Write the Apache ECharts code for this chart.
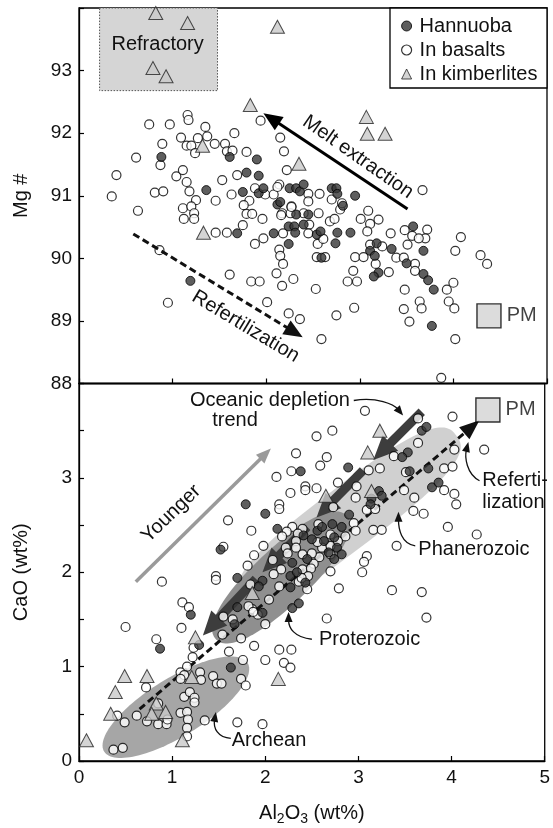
<!DOCTYPE html>
<html>
<head>
<meta charset="utf-8">
<script src="https://cdn.jsdelivr.net/npm/echarts@6/dist/echarts.min.js"></script>
<style>
  html, body { margin: 0; padding: 0; background: #fff; }
  #chart { width: 553px; height: 828px; }
</style>
</head>
<body>
<div id="chart"></div>
<script>
// Axis ranges
const al2o3Range = [0, 5];
const mgRange = [88, 94];
const caoRange = [0, 4];

// Mg# vs Al2O3 — [Al2O3 wt%, Mg#]
const hannuobaMg = [
  [0.88,91.62],[1.61,91.62],[1.90,91.58],[1.79,91.37],[1.92,91.32],[1.36,91.09],
  [1.75,91.06],[1.92,91.04],[1.97,91.12],[2.25,91.12],[2.32,91.12],[2.36,91.07],[2.40,91.18],
  [2.70,91.12],[2.75,91.12],[2.76,91.03],[2.95,91.00],[2.12,90.86],[2.15,90.90],[2.82,90.84],
  [2.32,90.70],[2.45,90.70],[2.24,90.51],[2.30,90.51],[2.40,90.54],[2.31,90.41],[2.08,90.40],
  [1.69,90.40],[2.24,90.23],[2.54,90.38],[2.58,90.43],[2.76,90.41],[2.90,90.41],[2.74,90.24],
  [2.59,90.01],[3.11,90.12],[3.18,90.24],[3.16,90.04],[3.20,89.77],[3.15,89.71],
  [3.34,90.15],[3.50,89.92],[3.57,90.51],[3.68,90.12],[3.68,89.75],[3.73,89.65],[3.79,89.50],
  [3.77,88.92],[1.19,89.64]
];
const basaltMg = [
  [0.75,92.14],[0.97,92.14],[1.16,92.29],[1.17,92.21],[1.35,92.10],[1.94,92.20],
  [0.89,91.83],[1.09,91.93],[1.15,91.80],[1.20,91.80],[1.27,91.92],[1.37,91.95],[1.24,91.68],
  [1.45,91.83],[1.56,91.83],[1.58,91.71],[1.64,91.72],[1.66,92.00],[1.79,91.70],[2.15,91.93],[2.19,91.71],
  [0.61,91.61],[0.87,91.49],[0.40,91.33],[1.04,91.31],[1.11,91.41],[1.15,91.22],[1.53,91.25],
  [1.69,91.33],[2.22,91.41],[2.14,91.18],[3.67,91.09],[0.81,91.05],[0.90,91.07],[0.35,90.99],
  [0.63,90.76],[1.18,91.07],[1.25,90.93],[1.11,90.80],[1.20,90.83],[1.12,90.63],[1.23,90.72],[1.23,90.63],
  [1.46,90.92],[1.46,90.41],[1.58,90.41],[1.63,91.02],[1.88,91.12],[1.82,90.92],[1.76,90.85],[1.79,90.71],
  [1.85,90.71],[1.96,90.63],[1.75,90.53],[1.99,91.02],[2.08,91.02],[2.12,91.14],
  [1.88,90.23],[1.97,90.32],[2.17,90.72],[2.18,90.40],[2.27,90.83],[2.26,90.72],[2.45,91.03],[2.45,90.91],
  [2.40,90.72],[2.46,90.54],[2.45,90.40],[2.57,91.03],[2.56,90.72],[2.68,90.59],[2.73,90.63],[2.70,90.94],
  [2.79,90.78],[2.81,90.88],[2.55,90.23],[2.61,90.31],
  [2.14,90.14],[2.15,90.04],[2.18,89.91],[2.11,89.76],[2.17,89.56],[2.29,89.67],[1.61,89.74],[1.84,89.63],
  [1.93,89.63],[2.01,89.30],[2.53,89.51],[2.24,89.12],[2.36,89.03],[2.59,88.71],[2.75,89.09],[2.94,89.21],
  [0.86,90.13],[0.95,89.29],[2.87,89.63],[2.97,89.63],[2.93,89.80],[2.95,90.02],[3.04,90.02],[2.54,90.02],[2.63,90.02],
  [3.01,90.63],[3.09,90.76],[3.11,90.55],[3.08,90.43],[3.20,90.62],[3.11,90.22],[3.24,90.19],[3.17,89.91],
  [3.31,89.78],[3.39,90.01],[3.33,90.40],[3.48,90.45],[3.56,90.36],[3.72,90.46],[3.70,90.32],[3.63,90.32],
  [3.51,90.22],[3.47,90.01],[3.59,89.91],[3.59,89.80],[3.48,89.50],[3.64,89.31],[3.66,89.20],[3.47,89.19],[3.53,88.99],
  [4.00,89.61],[3.93,89.50],[3.95,89.31],[4.01,89.20],[4.02,88.71],[4.02,90.12],[4.08,90.34],[4.29,90.05],
  [4.36,89.91],[3.87,88.09],[2.27,90.82],[2.16,90.69]
];
const kimberliteMg = [
  [0.82,93.92],[1.16,93.76],[2.12,93.70],[0.79,93.04],[0.93,92.91],[1.83,92.45],
  [3.07,92.26],[3.08,91.99],[3.27,91.99],[1.32,91.80],[2.35,91.51],[1.33,90.41]
];
const pmMg = [[4.38, 89.08]];

// CaO vs Al2O3 — [Al2O3 wt%, CaO wt%]
const hannuobaCa = [
  [3.68,3.50],[3.73,3.54],[3.53,3.27],[3.47,3.22],[2.38,3.07],[2.89,3.11],[3.55,3.07],[3.75,3.10],
  [3.79,2.90],[3.86,2.95],[1.79,2.72],[2.00,2.62],[2.90,2.61],[3.22,2.86],[3.25,2.81],[3.14,2.78],
  [3.13,2.72],[1.52,2.24],[2.13,2.46],[2.72,2.51],[2.82,2.48],[2.74,2.37],[2.56,2.44],[2.61,2.48],
  [2.41,2.39],[2.50,2.35],[2.63,2.33],[2.77,2.26],[2.29,2.10],[2.45,2.14],[2.82,2.19],[2.74,2.14],
  [2.68,2.21],[2.27,1.96],[2.34,2.00],[2.43,1.89],[2.27,1.84],[1.97,1.91],[1.93,1.85],[1.97,1.57],
  [2.29,1.62],[2.36,1.67],[1.70,1.94],[1.20,1.55],[0.87,1.19],[1.29,1.23],[1.63,0.99],[1.70,1.63],[1.67,1.45]
];
const basaltCa = [
  [3.07,3.71],[3.64,3.63],[4.01,3.65],[2.55,3.44],[2.72,3.50],[3.64,3.37],[4.03,3.30],[4.35,3.30],
  [2.33,3.26],[2.66,3.22],[3.38,3.23],[2.59,3.13],[3.11,3.08],[3.23,3.10],[2.12,3.01],[2.28,3.07],
  [2.78,2.95],[2.43,2.91],[2.43,2.87],[2.27,2.84],[2.55,2.89],[2.98,2.91],[2.97,2.79],[3.51,3.06],
  [3.49,2.87],[3.60,2.79],[3.92,3.10],[4.01,3.12],[3.92,2.87],[4.03,2.83],[4.05,2.72],[3.59,2.65],
  [3.70,2.62],[3.96,2.48],[4.27,2.40],[3.41,2.28],[3.16,2.45],[3.25,2.45],[3.09,2.66],[3.18,2.67],
  [2.15,2.72],[2.15,2.67],[1.60,2.55],[1.85,2.44],[1.98,2.28],[1.88,2.18],[2.73,2.69],[1.55,2.27],
  [2.29,2.48],[2.40,2.46],[2.23,2.43],[2.35,2.41],[2.18,2.38],[2.33,2.33],[1.81,2.07],[2.70,2.40],
  [2.61,2.26],[2.70,2.28],[2.58,2.16],[2.70,2.19],[2.52,2.09],[2.33,2.26],[2.22,2.26],[2.08,2.13],
  [2.17,2.03],[2.40,2.19],[2.57,2.51],[2.95,2.52],[2.86,2.38],[2.97,2.44],[3.09,2.17],
  [2.56,2.32],[2.78,2.33],[2.50,2.20],[2.24,2.20],[3.06,2.11],[3.04,2.00],[2.70,2.01],[2.09,1.98],
  [2.40,2.03],[2.49,2.04],[2.46,1.96],[2.36,1.90],[2.45,1.82],[2.15,1.85],[2.04,1.71],[1.86,1.61],
  [2.00,1.45],[1.92,1.55],[2.79,1.83],[3.36,1.81],[3.68,1.79],[3.73,1.52],[2.66,1.51],
  [1.88,1.22],[2.15,1.18],[2.28,1.18],[2.00,1.07],[2.20,1.04],[2.27,0.99],
  [0.89,1.90],[1.47,1.96],[1.47,1.92],[1.84,1.87],[0.50,1.42],[1.11,1.68],[1.18,1.63],[1.10,1.41],
  [0.83,1.29],[1.55,1.53],[1.65,1.50],[1.82,1.64],[1.87,1.58],[2.39,1.94],[1.54,1.34],[1.61,1.16],
  [1.74,1.30],[1.23,1.20],[1.22,1.10],[1.76,1.07],[1.16,1.00],[1.09,0.94],[1.13,0.91],[1.30,0.94],
  [1.31,0.86],[1.09,0.87],[1.44,0.90],[1.48,0.82],[1.53,0.82],[1.74,0.87],[1.79,0.80],[0.72,0.78],
  [1.13,0.68],[1.19,0.73],[1.24,0.67],[1.24,0.62],[1.09,0.51],[1.16,0.52],[1.17,0.44],[1.16,0.35],
  [1.16,0.26],[1.35,0.43],[0.62,0.48],[0.41,0.48],[0.49,0.41],[0.73,0.42],[0.85,0.39],[0.94,0.39],
  [0.95,0.44],[0.85,0.61],[0.37,0.12],[0.47,0.14],[1.70,0.41],[1.97,0.39]
];
const kimberliteCa = [
  [3.23,3.50],[3.10,3.27],[2.65,2.81],[3.14,2.86],[1.25,1.31],[0.08,0.22],[0.34,0.50],[0.39,0.73],
  [0.49,0.90],[0.73,0.90],[0.83,0.61],[0.78,0.50],[0.93,0.52],[1.21,0.89],[1.11,0.22],[1.86,1.78],[2.14,0.87]
];
const pmCa = [[4.39, 3.72]];

const FONT = 'Liberation Sans, Arial, Helvetica, sans-serif';
const INK = '#111';

const styles = {
  hannuoba: { symbol: 'circle', symbolSize: 9, itemStyle: { color: '#363636', borderColor: '#000', borderWidth: 1 } },
  basalt: { symbol: 'circle', symbolSize: 9, itemStyle: { color: '#fff', borderColor: '#000', borderWidth: 1.2 } },
  kimberlite: { symbol: 'triangle', symbolSize: [14, 13], itemStyle: { color: '#c9c9c9', borderColor: '#222', borderWidth: 1 } }
};

function scatter(name, data, gi, st, z) {
  return Object.assign({ name, type: 'scatter', xAxisIndex: gi, yAxisIndex: gi, data, silent: true, z }, st);
}
function pmSeries(data, gi) {
  return {
    name: 'PM', type: 'scatter', xAxisIndex: gi, yAxisIndex: gi, data, silent: true, z: 4,
    symbol: 'rect', symbolSize: 24,
    itemStyle: { color: '#d3d3d3', borderColor: '#000', borderWidth: 1.4 },
    label: { show: true, formatter: 'PM', position: 'right', distance: 5, fontSize: 20, fontFamily: FONT, color: INK }
  };
}

const axisCommon = {
  axisLine: { show: true, lineStyle: { color: '#000', width: 1.3 } },
  axisTick: { show: true, inside: true, length: 5, lineStyle: { color: '#000', width: 1.2 } },
  splitLine: { show: false },
  axisLabel: { fontSize: 19, fontFamily: FONT, color: INK, margin: 7 },
  nameTextStyle: { fontSize: 20, fontFamily: FONT, color: INK }
};

const option = {
  animation: false,
  backgroundColor: '#fff',
  textStyle: { fontFamily: FONT },
  grid: [
    { left: 79, top: 8, width: 468, height: 375.5, show: true, borderColor: '#000', borderWidth: 1.3, backgroundColor: 'transparent' },
    { left: 79, top: 383.5, width: 468, height: 377.5, show: true, borderColor: '#000', borderWidth: 1.3, backgroundColor: 'transparent' }
  ],
  xAxis: [
    Object.assign({}, axisCommon, { gridIndex: 0, type: 'value', min: al2o3Range[0], max: al2o3Range[1], interval: 1,
      axisLabel: { show: false } }),
    Object.assign({}, axisCommon, { gridIndex: 1, type: 'value', min: al2o3Range[0], max: al2o3Range[1], interval: 1,
      name: '{a|Al}{s|2}{a|O}{s|3}{a| (wt%)}', nameLocation: 'middle', nameGap: 39,
      nameTextStyle: { fontSize: 20, fontFamily: FONT, color: INK, rich: {
        a: { fontSize: 20, fontFamily: FONT, color: INK, lineHeight: 26 },
        s: { fontSize: 14, fontFamily: FONT, color: INK, lineHeight: 14, verticalAlign: 'bottom' }
      } } })
  ],
  yAxis: [
    Object.assign({}, axisCommon, { gridIndex: 0, type: 'value', min: mgRange[0], max: mgRange[1], interval: 1,
      axisLabel: Object.assign({}, axisCommon.axisLabel, { formatter: v => (v === mgRange[1] ? '' : String(v)) }),
      name: 'Mg #', nameLocation: 'middle', nameGap: 48 }),
    Object.assign({}, axisCommon, { gridIndex: 1, type: 'value', min: caoRange[0], max: caoRange[1], interval: 0.5,
      axisLabel: Object.assign({}, axisCommon.axisLabel, { formatter: v => (Number.isInteger(v) && v < caoRange[1] ? String(v) : '') }),
      name: 'CaO (wt%)', nameLocation: 'middle', nameGap: 48 })
  ],
  legend: {
    orient: 'vertical', left: 401, top: 14, padding: 0, itemGap: 0, itemWidth: 10, itemHeight: 10,
    selectedMode: false, z: 20,
    textStyle: { fontSize: 20, fontFamily: FONT, color: INK, lineHeight: 24, padding: [0, 0, 0, 3] },
    data: [
      { name: 'Hannuoba', icon: 'circle', itemStyle: styles.hannuoba.itemStyle },
      { name: 'In basalts', icon: 'circle', itemStyle: styles.basalt.itemStyle },
      { name: 'In kimberlites', icon: 'triangle', itemStyle: styles.kimberlite.itemStyle }
    ]
  },
  series: [
    scatter('In basalts', basaltMg, 0, styles.basalt, 3),
    scatter('Hannuoba', hannuobaMg, 0, styles.hannuoba, 3),
    scatter('In kimberlites', kimberliteMg, 0, styles.kimberlite, 3),
    pmSeries(pmMg, 0),
    scatter('In basalts', basaltCa, 1, styles.basalt, 3),
    scatter('Hannuoba', hannuobaCa, 1, styles.hannuoba, 3),
    scatter('In kimberlites', kimberliteCa, 1, styles.kimberlite, 3),
    pmSeries(pmCa, 1)
  ]
};

const chart = echarts.init(document.getElementById('chart'), null, { renderer: 'canvas' });
chart.setOption(option);

// ---- annotations placed in data space, converted through each grid's scales ----
const toPx = (gi, p) => chart.convertToPixel({ gridIndex: gi }, p);

function arrow(gi, from, to, o) {
  const p0 = toPx(gi, from), p1 = toPx(gi, to);
  const dx = p1[0] - p0[0], dy = p1[1] - p0[1];
  const L = Math.hypot(dx, dy), ux = dx / L, uy = dy / L, nx = -uy, ny = ux;
  const bx = p1[0] - ux * o.head, by = p1[1] - uy * o.head;
  return [
    { type: 'line', z: o.z, silent: true,
      shape: { x1: p0[0], y1: p0[1], x2: bx + ux * 2, y2: by + uy * 2 },
      style: { stroke: o.color, lineWidth: o.width, lineDash: o.dash || null, lineCap: 'butt' } },
    { type: 'polygon', z: o.z, silent: true,
      shape: { points: [[p1[0], p1[1]], [bx + nx * o.hw, by + ny * o.hw], [bx - nx * o.hw, by - ny * o.hw]] },
      style: { fill: o.color } }
  ];
}

function pointer(gi, pts) {
  const [a, c1, c2, b] = pts.map(p => toPx(gi, p));
  const dx = b[0] - c2[0], dy = b[1] - c2[1];
  const L = Math.hypot(dx, dy), ux = dx / L, uy = dy / L, nx = -uy, ny = ux;
  const bx = b[0] - ux * 10, by = b[1] - uy * 10;
  return [
    { type: 'bezierCurve', z: 6, silent: true,
      shape: { x1: a[0], y1: a[1], cpx1: c1[0], cpy1: c1[1], cpx2: c2[0], cpy2: c2[1], x2: bx + ux * 2, y2: by + uy * 2 },
      style: { stroke: INK, lineWidth: 1.3, fill: 'none' } },
    { type: 'polygon', z: 6, silent: true,
      shape: { points: [[b[0], b[1]], [bx + nx * 4, by + ny * 4], [bx - nx * 4, by - ny * 4]] },
      style: { fill: INK } }
  ];
}

function blob(gi, e0, e1, semiMinor, power, fill) {
  const p0 = toPx(gi, e0), p1 = toPx(gi, e1);
  const cx = (p0[0] + p1[0]) / 2, cy = (p0[1] + p1[1]) / 2;
  const a = Math.hypot(p1[0] - p0[0], p1[1] - p0[1]) / 2;
  const ang = Math.atan2(p1[1] - p0[1], p1[0] - p0[0]);
  const ca = Math.cos(ang), sa = Math.sin(ang), e = 2 / power;
  const points = [];
  for (let i = 0; i < 120; i++) {
    const t = i / 120 * Math.PI * 2, c = Math.cos(t), s = Math.sin(t);
    const u = a * Math.sign(c) * Math.pow(Math.abs(c), e);
    const v = semiMinor * Math.sign(s) * Math.pow(Math.abs(s), e);
    points.push([cx + u * ca - v * sa, cy + u * sa + v * ca]);
  }
  return { type: 'polygon', z: 1, silent: true, shape: { points }, style: { fill } };
}

function label(gi, at, text, o) {
  const p = toPx(gi, at);
  return { type: 'text', x: p[0], y: p[1], z: 8, silent: true,
    rotation: ((o && o.rot) || 0) * Math.PI / 180,
    style: { text, font: '20px ' + FONT, fill: INK,
      align: (o && o.align) || 'center', textAlign: (o && o.align) || 'center',
      verticalAlign: 'middle', textVerticalAlign: 'middle' } };
}

const els = [];

// Refractory field (top panel)
const r0 = toPx(0, [0.22, 92.68]), r1 = toPx(0, [1.48, 94]);
els.push({ type: 'rect', z: 1, silent: true,
  shape: { x: r0[0], y: r1[1], width: r1[0] - r0[0], height: r0[1] - r1[1] },
  style: { fill: '#d5d5d5', stroke: '#555', lineWidth: 1, lineDash: [1.5, 1.5] } });
els.push(label(0, [0.84, 93.41], 'Refractory'));

// Top panel trends
els.push(...arrow(0, [3.51, 90.79], [1.97, 92.32], { color: '#000', width: 3, head: 19, hw: 8, z: 5 }));
els.push(...arrow(0, [0.58, 90.39], [2.39, 88.74], { color: '#111', width: 3, head: 19, hw: 8, dash: [7, 4], z: 5 }));
els.push(label(0, [2.98, 91.62], 'Melt extraction', { rot: -35 }));
els.push(label(0, [1.78, 88.91], 'Refertilization', { rot: -31 }));

// Lithosphere age fields (bottom panel)
els.push(blob(1, [1.75, 1.72], [4.05, 3.45], 31, 2.8, '#d0d0d0'));
els.push(blob(1, [1.47, 1.29], [2.87, 2.60], 28, 2.2, '#8f8f8f'));
els.push(blob(1, [0.27, 0.10], [1.81, 1.04], 29, 2, '#a6a6a6'));

// Oceanic depletion trend (chained arrows)
const depletion = [
  [[3.68, 3.70], [3.16, 3.19]],
  [[3.05, 3.08], [2.55, 2.58]],
  [[2.45, 2.48], [1.97, 2.00]],
  [[1.90, 1.93], [1.33, 1.33]]
];
depletion.forEach(([a, b]) => els.push(...arrow(1, a, b, { color: '#3d3d3d', width: 9, head: 24, hw: 11, z: 2 })));

// Younger and refertilization trends
els.push(...arrow(1, [0.61, 1.90], [2.06, 3.31], { color: '#9a9a9a', width: 3.5, head: 15, hw: 6, z: 2 }));
els.push(...arrow(1, [0.65, 0.55], [4.30, 3.61], { color: '#111', width: 3, head: 20, hw: 8, dash: [7, 4], z: 2 }));

// Bottom panel text and pointers
els.push(label(1, [2.05, 3.82], 'Oceanic depletion'));
els.push(label(1, [1.675, 3.61], 'trend'));
els.push(label(1, [0.99, 2.62], 'Younger', { rot: 44 }));
els.push(label(1, [4.24, 2.245], 'Phanerozoic'));
els.push(label(1, [4.33, 2.97], 'Referti-', { align: 'left' }));
els.push(label(1, [4.33, 2.74], 'lization', { align: 'left' }));
els.push(label(1, [3.12, 1.29], 'Proterozoic'));
els.push(label(1, [2.04, 0.22], 'Archean'));

els.push(...pointer(1, [[2.95, 3.82], [3.20, 3.86], [3.38, 3.78], [3.48, 3.66]]));
els.push(...pointer(1, [[4.30, 2.97], [4.16, 3.04], [4.14, 3.22], [4.18, 3.38]]));
els.push(...pointer(1, [[3.61, 2.28], [3.46, 2.30], [3.43, 2.46], [3.43, 2.64]]));
els.push(...pointer(1, [[2.50, 1.29], [2.31, 1.31], [2.25, 1.41], [2.25, 1.58]]));
els.push(...pointer(1, [[1.63, 0.24], [1.49, 0.245], [1.44, 0.35], [1.47, 0.52]]));

// Legend frame
els.push({ type: 'rect', z: 15, silent: true, shape: { x: 390, y: 8, width: 157, height: 80 },
  style: { fill: '#fff', stroke: '#000', lineWidth: 1.3 } });

chart.setOption({ graphic: { elements: els } });
</script>
</body>
</html>
